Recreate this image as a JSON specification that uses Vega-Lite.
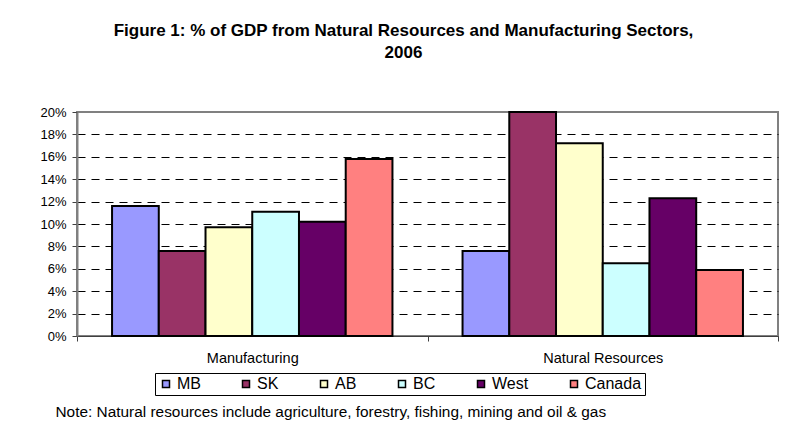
{
  "$schema": "https://vega.github.io/schema/vega-lite/v6.json",
  "width": 701,
  "height": 224,
  "autosize": {"type": "none"},
  "padding": {"left": 77, "top": 112, "right": 9, "bottom": 102},
  "background": "white",
  "title": {
    "text": ["Figure 1: % of GDP from Natural Resources and Manufacturing Sectors,", "2006"],
    "font": "Liberation Sans",
    "fontSize": 17,
    "fontWeight": "bold",
    "color": "black",
    "anchor": "middle",
    "frame": "group",
    "dx": -24,
    "offset": 44,
    "lineHeight": 22
  },
  "data": {
    "values": [
      {"sector": "Manufacturing", "region": "MB", "share": 0.116},
      {"sector": "Manufacturing", "region": "SK", "share": 0.076},
      {"sector": "Manufacturing", "region": "AB", "share": 0.097},
      {"sector": "Manufacturing", "region": "BC", "share": 0.111},
      {"sector": "Manufacturing", "region": "West", "share": 0.102},
      {"sector": "Manufacturing", "region": "Canada", "share": 0.158},
      {"sector": "Natural Resources", "region": "MB", "share": 0.076},
      {"sector": "Natural Resources", "region": "SK", "share": 0.200},
      {"sector": "Natural Resources", "region": "AB", "share": 0.172},
      {"sector": "Natural Resources", "region": "BC", "share": 0.065},
      {"sector": "Natural Resources", "region": "West", "share": 0.123},
      {"sector": "Natural Resources", "region": "Canada", "share": 0.059}
    ]
  },
  "mark": {"type": "bar", "stroke": "black", "strokeWidth": 2},
  "encoding": {
    "x": {
      "field": "sector",
      "type": "nominal",
      "sort": ["Manufacturing", "Natural Resources"],
      "scale": {"paddingInner": 0, "paddingOuter": 0},
      "axis": {
        "labelAngle": 0,
        "labelFont": "Liberation Sans",
        "labelFontSize": 14.5,
        "labelColor": "black",
        "labelPadding": 10,
        "tickBand": "extent",
        "tickSize": 5,
        "tickColor": "#404040",
        "domainColor": "#404040",
        "grid": false,
        "title": "Note: Natural resources include agriculture, forestry, fishing, mining and oil & gas",
        "titleFont": "Liberation Sans",
        "titleFontSize": 15.4,
        "titleFontWeight": "normal",
        "titleColor": "black",
        "titleX": -22,
        "titleY": 75,
        "titleAlign": "left",
        "titleBaseline": "middle",
        "titleAnchor": "start"
      }
    },
    "xOffset": {
      "field": "region",
      "type": "nominal",
      "sort": ["MB", "SK", "AB", "BC", "West", "Canada"],
      "scale": {"paddingInner": 0, "paddingOuter": 0.75}
    },
    "y": {
      "field": "share",
      "type": "quantitative",
      "scale": {"domain": [0, 0.2], "nice": false},
      "axis": {
        "values": [0, 0.02, 0.04, 0.06, 0.08, 0.1, 0.12, 0.14, 0.16, 0.18, 0.2],
        "format": ".0%",
        "labelFont": "Liberation Sans",
        "labelFontSize": 13,
        "labelColor": "black",
        "labelPadding": 6,
        "tickSize": 5,
        "tickColor": "#404040",
        "domainColor": "#808080",
        "domainWidth": 2,
        "grid": true,
        "gridColor": "black",
        "gridDash": [8, 6],
        "gridWidth": 1,
        "gridOpacity": {"condition": {"test": "datum.value >= 0.199 || datum.value <= 0.001", "value": 0}, "value": 1},
        "title": null
      }
    },
    "color": {
      "field": "region",
      "type": "nominal",
      "sort": ["MB", "SK", "AB", "BC", "West", "Canada"],
      "scale": {
        "domain": ["MB", "SK", "AB", "BC", "West", "Canada"],
        "range": ["#9999FF", "#993366", "#FFFFCC", "#CCFFFF", "#660066", "#FF8080"]
      },
      "legend": {
        "orient": "none",
        "legendX": 78,
        "legendY": 261,
        "direction": "horizontal",
        "columns": 6,
        "columnPadding": 37,
        "gridAlign": "none",
        "title": null,
        "strokeColor": "black",
        "fillColor": "white",
        "padding": 3,
        "symbolType": "square",
        "symbolSize": 49,
        "symbolStrokeColor": "black",
        "symbolStrokeWidth": 1.5,
        "labelFont": "Liberation Sans",
        "labelFontSize": 16,
        "labelColor": "black",
        "labelOffset": 3
      }
    }
  },
  "config": {
    "view": {"stroke": "#808080", "strokeWidth": 2}
  }
}
